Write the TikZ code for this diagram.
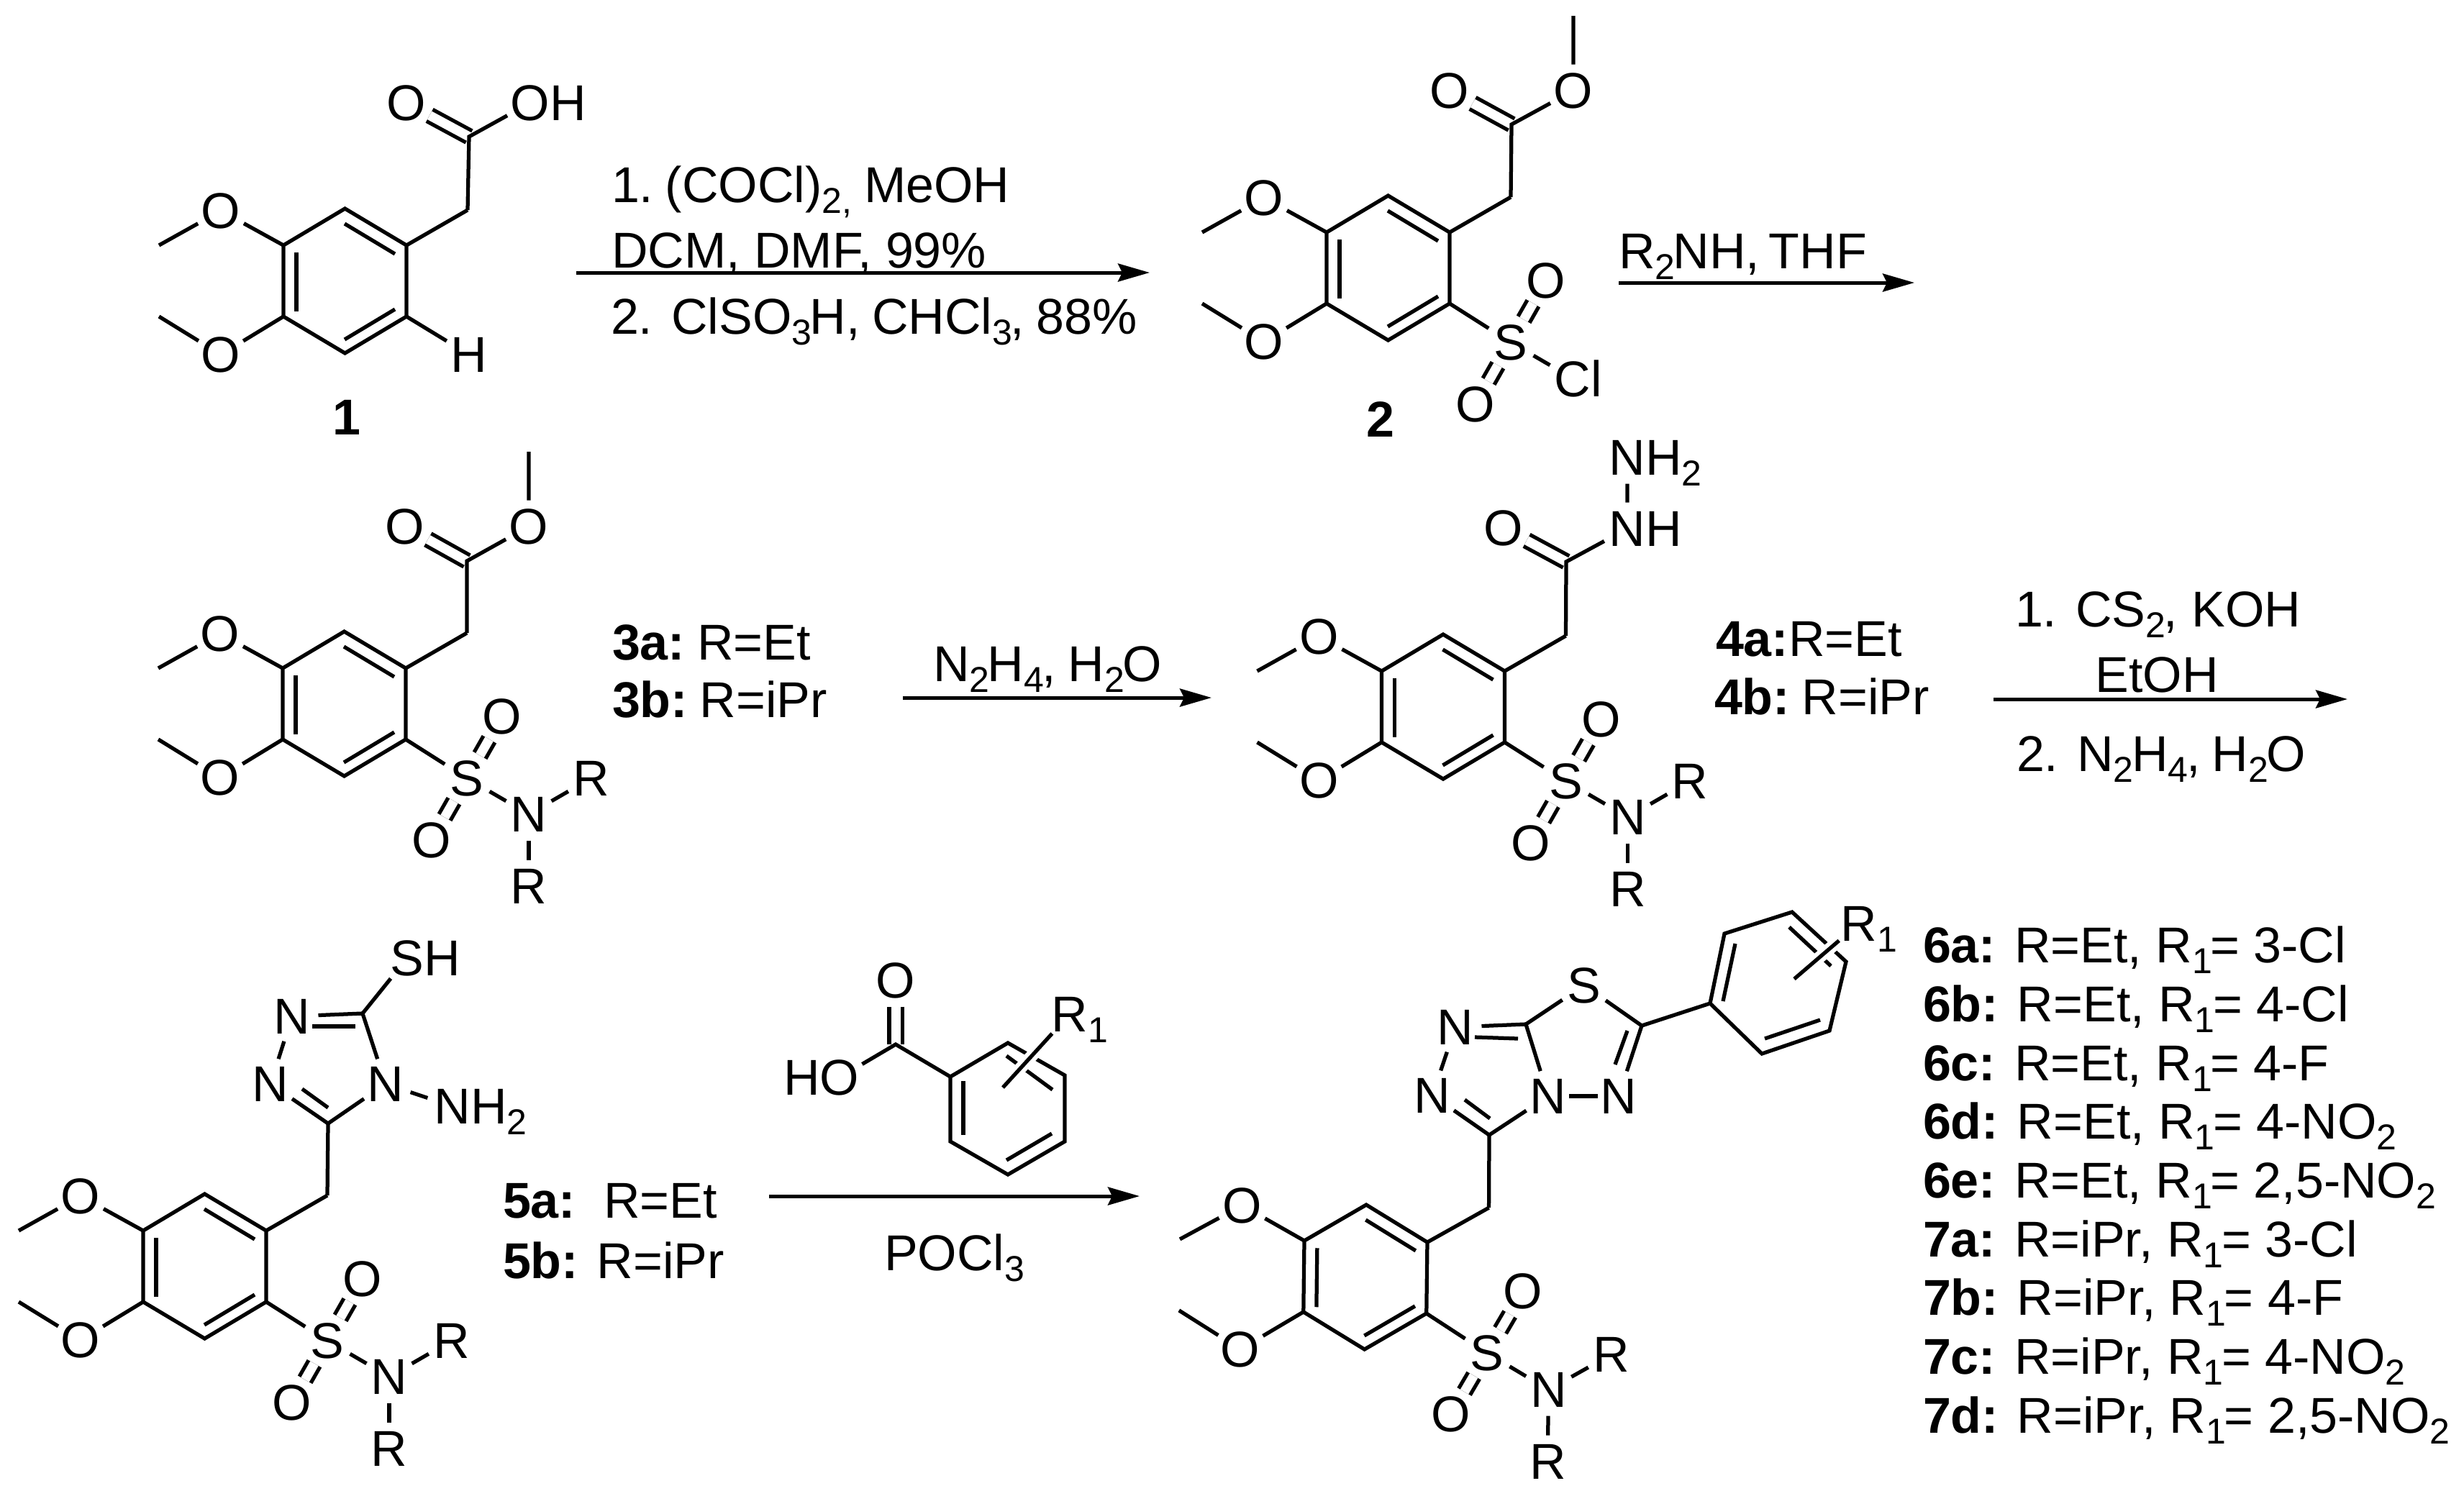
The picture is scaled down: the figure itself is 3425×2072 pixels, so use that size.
\documentclass[tikz,border=0pt]{standalone}
\usepackage{fontspec}
\setmainfont{Liberation Sans}
\usetikzlibrary{arrows.meta}
\tikzset{
  bond/.style={line width=1.05pt},
  dbl/.style={line width=1.05pt,double,double distance=2.6pt},
  halo/.style={line width=3.4pt,white},
  atom/.style={circle,inner sep=0pt,outer sep=0pt,minimum size=14.6pt},
  txt/.style={inner sep=0pt,outer sep=0pt,anchor=base west},
  lab/.style={inner sep=0pt,outer sep=0pt,anchor=base},
  rxn/.style={line width=1pt,-{Stealth[length=8.8pt,width=5pt,inset=1.2pt]}}
}
\newcommand\sbb[1]{\smash{\raisebox{-3pt}{\fontsize{10}{12}\selectfont #1}}\kern-0.5pt\relax}
\newcommand\atom[3]{\node[atom] (#1) at (#2) {\makebox[0pt]{#3}};}
% aryl core: p = prefix, x, y of upper-left ring atom, rotation
\newcommand\core[4]{%
\begin{scope}[shift={(#2,#3)},rotate=#4]
  \coordinate (#1a) at (0,0);
  \coordinate (#1b) at (85.5,-51);
  \coordinate (#1c) at (171,0);
  \coordinate (#1d) at (171,99);
  \coordinate (#1e) at (85.5,150);
  \coordinate (#1f) at (0,99);
  \coordinate (#1ch) at (256,-49);
  \coordinate (#1m1) at (-173,0);
  \coordinate (#1m2) at (-173,99);
  \atom{#1o1}{-87,-48}{O}
  \atom{#1o2}{-87,152}{O}
  \draw[bond] (#1a)--(#1b)--(#1c)--(#1d)--(#1e)--(#1f)--cycle;
  \draw[bond] (85,-30)--(155,12);
  \draw[bond] (18,10)--(18,92);
  \draw[bond] (85,131)--(155,89);
  \draw[bond] (#1m1)--(#1o1)--(#1a);
  \draw[bond] (#1m2)--(#1o2)--(#1f);
  \draw[bond] (#1c)--(#1ch);
\end{scope}}
% sulfonyl group, with an N(R)2 unless used by hand
\newcommand\sulf[4]{%
\begin{scope}[shift={(#2,#3)},rotate=#4]
  \atom{#1S}{256,153}{S}
  \atom{#1ou}{305,67}{O}
  \atom{#1od}{207,239}{O}
  \draw[dbl] (#1S)--(#1ou);
  \draw[dbl] (#1S)--(#1od);
  \draw[bond] (#1d)--(#1S);
\end{scope}}
\newcommand\amine[4]{%
\begin{scope}[shift={(#2,#3)},rotate=#4]
  \atom{#1N}{342,203}{N}
  \atom{#1R}{428.5,153}{R}
  \atom{#1Rb}{342,303}{R}
  \draw[bond] (#1S)--(#1N)--(#1R);
  \draw[bond] (#1N)--(#1Rb);
\end{scope}}
\begin{document}
\begin{tikzpicture}[x=0.2pt,y=-0.2pt,font=\fontsize{14}{16}\selectfont]
\useasboundingbox (0,0) rectangle (3425,2072);

% ---------- compound 1
\core{A}{394}{341}{0}
\coordinate (AC) at (652,190);
\atom{AO}{565,143}{O}
\atom{AOH}{737,143}{O\rlap{H}}
\atom{AH}{652,493}{H}
\draw[dbl] (AO)--(AC);
\draw[bond] (Ach)--(AC)--(AOH);
\draw[bond] (Ad)--(AH);
\node[lab,font=\fontsize{14}{16}\selectfont\bfseries] (L1) at (482,604) {1};

% ---------- reaction 1
\coordinate (r1s) at (801,379);
\coordinate (r1e) at (1598,379);
\node[txt] (r1a) at (850,281) {1.\kern-0.6pt\ (COCl)\sbb{2,} MeOH};
\node[txt] (r1b) at (850,372) {DCM, DMF, 99\%};
\node[txt] (r1c) at (849,464) {2. ClSO\sbb{3}H,\kern-0.6pt\ CHCl\sbb{3},\kern-0.6pt\ 88\%};
\draw[rxn] (r1s)--(r1e);

% ---------- compound 2
\core{B}{1844}{323}{0}
\coordinate (BC) at (2101,173);
\coordinate (BMe) at (2187,22);
\atom{BO}{2015,126}{O}
\atom{BOM}{2187,126}{O}
\draw[dbl] (BO)--(BC);
\draw[bond] (Bch)--(BC)--(BOM)--(BMe);
\sulf{B}{1844}{323}{0}
\atom{BCl}{2186,526}{C\rlap{l}}
\draw[bond] (BS)--(BCl);
\node[lab,font=\fontsize{14}{16}\selectfont\bfseries] (L2) at (1919,607) {2};

% ---------- reaction 2
\coordinate (r2s) at (2250,393);
\coordinate (r2e) at (2661,393);
\node[txt] (r2a) at (2250,373) {R\sbb{2}NH,\kern-1.4pt\ THF};
\draw[rxn] (r2s)--(r2e);

% ---------- compound 3
\core{C}{393}{929}{0}
\coordinate (CC) at (649,780);
\coordinate (CMe) at (735,628);
\atom{CO}{563,732}{O}
\atom{COM}{735,732}{O}
\draw[dbl] (CO)--(CC);
\draw[bond] (Cch)--(CC)--(COM)--(CMe);
\sulf{C}{393}{929}{0}
\amine{C}{393}{929}{0}
\node[txt] (L3a) at (851,917) {\textbf{3a:}\kern-0.5pt\ R=Et};
\node[txt] (L3b) at (851,997) {\textbf{3b:}\kern-0.5pt\ R=iPr};

% ---------- reaction 3
\coordinate (r3s) at (1255,970);
\coordinate (r3e) at (1684,970);
\node[txt] (r3a) at (1297,947) {N\sbb{2}H\sbb{4},\kern-0.6pt\ H\sbb{2}O};
\draw[rxn] (r3s)--(r3e);

% ---------- compound 4
\core{D}{1920.5}{933}{0}
\coordinate (DC) at (2177,781);
\atom{DO}{2090,734}{O}
\atom{DNH}{2262,735}{N\rlap{H}}
\atom{DNN}{2262,636}{N\rlap{H\sbb{2}}}
\draw[dbl] (DO)--(DC);
\draw[bond] (Dch)--(DC)--(DNH)--(DNN);
\sulf{D}{1920.5}{933}{0}
\amine{D}{1920.5}{933}{0}
\node[txt] (L4a) at (2385,912) {\textbf{4a:}R=Et};
\node[txt] (L4b) at (2383,993) {\textbf{4b:}\kern-0.5pt\ R=iPr};

% ---------- reaction 4
\coordinate (r4s) at (2771,972);
\coordinate (r4e) at (3263,972);
\node[txt] (r4a) at (2801,871) {1. CS\sbb{2}, KOH};
\node[lab] (r4b) at (2998,962) {EtOH};
\node[txt] (r4c) at (2803,1072) {2. N\sbb{2}H\sbb{4},\kern-0.6pt\ H\sbb{2}O};
\draw[rxn] (r4s)--(r4e);

% ---------- compound 5
\core{E}{199}{1711}{0}
\coordinate (EC1) at (456,1562);
\coordinate (EC2) at (504,1409);
\atom{ENl}{376,1507}{N}
\atom{ENu}{406,1413}{N}
\atom{ENr}{536,1507}{N}
\atom{ESH}{566,1332}{S\rlap{H}}
\atom{ENH}{629,1538}{N\rlap{H\sbb{2}}}
\draw[bond] (Ech)--(EC1);
\draw[bond] (ENl)--(EC1)--(ENr)--(EC2)--(ENu)--(ENl);
\draw[bond] (420,1514)--(456,1540);
\draw[bond] (434,1427)--(494,1427);
\draw[bond] (EC2)--(ESH);
\draw[bond] (ENr)--(ENH);
\sulf{E}{199}{1711}{0}
\amine{E}{199}{1711}{0}
\node[txt] (L5a) at (699,1693) {\textbf{5a:}\ \ R=Et};
\node[txt] (L5b) at (699,1777) {\textbf{5b:} R=iPr};

% ---------- benzoic acid and reaction 5
\coordinate (Fa) at (1321,1497);
\coordinate (Fb) at (1401,1450);
\coordinate (Fc) at (1480,1495);
\coordinate (Fd) at (1480,1587);
\coordinate (Fe) at (1401,1633);
\coordinate (Ff) at (1321,1587);
\coordinate (FC) at (1245,1452);
\coordinate (Fx) at (1394,1512);
\atom{FO}{1245,1363}{O}
\atom{FHO}{1167,1498}{\llap{H}O}
\atom{FR}{1487,1410}{R\rlap{\sbb{1}}}
\draw[dbl] (FO)--(FC);
\draw[bond] (FHO)--(FC)--(Fa);
\draw[bond] (Fa)--(Fb)--(Fc)--(Fd)--(Fe)--(Ff)--cycle;
\draw[bond] (1339,1503)--(1339,1578);
\draw[bond] (1399,1613)--(1462,1576);
\draw[bond] (1399,1468)--(1463,1515);
\draw[halo] (Fx)--(FR);
\draw[bond] (Fx)--(FR);
\coordinate (r5s) at (1069,1663);
\coordinate (r5e) at (1584,1663);
\draw[rxn] (r5s)--(r5e);
\node[txt] (r5a) at (1229,1766) {POCl\sbb{3}};

% ---------- compounds 6, 7
\core{G}{1813}{1725}{-0.7}
\coordinate (GC1) at (2070,1578);
\coordinate (GCf) at (2121,1424);
\coordinate (GCt) at (2282,1426);
\atom{GNl}{1991,1523}{N}
\atom{GNu}{2023,1428}{N}
\atom{GNc}{2152,1524}{N}
\atom{GNr}{2250,1524}{N}
\atom{GSr}{2202,1370}{S}
\draw[bond] (Gch)--(GC1);
\draw[bond] (GNl)--(GC1)--(GNc)--(GCf)--(GNu)--(GNl);
\draw[bond] (2036,1529)--(2071,1555);
\draw[bond] (2050,1442)--(2110,1444);
\draw[bond] (GCf)--(GSr)--(GCt)--(GNr);
\draw[bond,shorten <=-1.5pt,shorten >=-1.5pt] (GNc)--(GNr);
\draw[bond] (2245,1480)--(2262,1433);
\coordinate (Pa) at (2377,1395);
\coordinate (Pb) at (2397,1298);
\coordinate (Pc) at (2491,1268);
\coordinate (Pd) at (2566,1337);
\coordinate (Pe) at (2543,1433);
\coordinate (Pf) at (2449,1465);
\coordinate (Px) at (2494,1361);
\atom{PR}{2584,1284}{R\rlap{\sbb{1}}}
\draw[bond] (GCt)--(Pa);
\draw[bond] (Pa)--(Pb)--(Pc)--(Pd)--(Pe)--(Pf)--cycle;
\draw[bond] (2412,1312)--(2395,1392);
\draw[bond] (2453,1444)--(2530,1418);
\draw[bond] (2487,1289)--(2545,1343);
\draw[halo] (Px)--(PR);
\draw[bond] (Px)--(PR);
\sulf{G}{1813}{1725}{-0.7}
\amine{G}{1813}{1725}{-0.7}

% ---------- list
\node[txt] (l6a) at (2673,1338) {\textbf{6a:} R=Et, R\sbb{1}= 3-Cl};
\node[txt] (l6b) at (2673,1420) {\textbf{6b:} R=Et, R\sbb{1}= 4-Cl};
\node[txt] (l6c) at (2673,1502) {\textbf{6c:} R=Et, R\sbb{1}= 4-F};
\node[txt] (l6d) at (2673,1583) {\textbf{6d:} R=Et, R\sbb{1}= 4-NO\sbb{2}};
\node[txt] (l6e) at (2673,1665) {\textbf{6e:} R=Et, R\sbb{1}= 2,5-NO\sbb{2}};
\node[txt] (l7a) at (2673,1747) {\textbf{7a:} R=iPr, R\sbb{1}= 3-Cl};
\node[txt] (l7b) at (2673,1828) {\textbf{7b:} R=iPr, R\sbb{1}= 4-F};
\node[txt] (l7c) at (2673,1910) {\textbf{7c:} R=iPr, R\sbb{1}= 4-NO\sbb{2}};
\node[txt] (l7d) at (2673,1992) {\textbf{7d:} R=iPr, R\sbb{1}= 2,5-NO\sbb{2}};
\end{tikzpicture}
\end{document}
